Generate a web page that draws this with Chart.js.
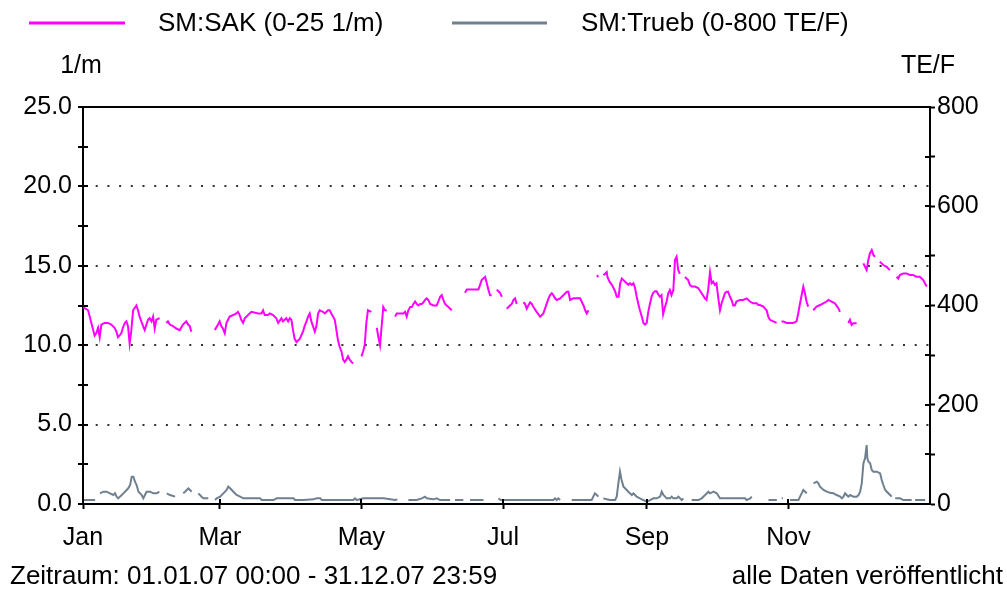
<!DOCTYPE html>
<html>
<head>
<meta charset="utf-8">
<script src="https://cdn.jsdelivr.net/npm/chart.js@4/dist/chart.umd.min.js"></script>
<style>
  body { margin: 0; background: #fff; }
  #wrap { width: 1007px; height: 590px; }
</style>
</head>
<body>
<div id="wrap"><canvas id="chart" width="1007" height="590"></canvas></div>
<script>
// x = day of year 2007, null = gap in the record
const sakData = [
  [0,12.4],[2.2,12.2],[3.6,11.4],[4.3,11.0],[5.0,10.6],[5.7,10.75],[6.5,11.1],[7.2,10.5],[7.9,11.3],[9.3,11.4],
  [10.8,11.4],[12.2,11.3],[13.6,11.1],[14.4,10.85],[15.1,10.5],[16.5,10.75],[17.2,11.1],[18.0,11.4],[18.7,11.5],
  [19.4,11.2],[20.1,10.1],[20.8,10.9],[21.6,12.2],[23.0,12.5],[23.7,12.2],[24.4,11.8],[25.9,11.2],[26.6,10.95],
  [28.0,11.6],[28.7,11.7],[29.5,11.5],[30.2,11.8],[30.9,11.05],[31.6,11.6],[33.0,11.7],
  null,
  [35.9,11.4],[36.6,11.5],[37.4,11.3],[38.8,11.2],[40.2,11.05],[41.7,10.95],[43.1,11.3],[44.5,11.5],[45.3,11.3],
  [46.0,11.2],[46.7,10.85],
  null,
  [56.8,10.95],[58.2,11.3],[58.9,11.5],[59.6,11.2],[60.3,11.05],[61.1,10.75],[61.8,11.4],[62.5,11.6],[63.2,11.8],
  [64.7,11.9],[66.1,12.0],[66.8,12.1],[67.5,11.9],[68.2,11.6],[69.0,11.4],[69.7,11.7],[71.1,11.9],[72.6,12.1],
  [75.4,12.0],[76.9,12.0],[77.6,12.2],[78.3,11.9],[79.7,11.9],[80.5,12.0],[81.9,11.9],[83.3,11.7],[84.1,11.4],
  [85.5,11.7],[86.2,11.5],[87.6,11.7],[88.4,11.5],[89.1,11.7],[89.8,11.6],[90.5,10.95],[91.2,10.4],[92.0,10.2],
  [93.4,10.4],[94.8,10.85],[95.5,11.2],[96.3,11.5],[97.0,11.8],[97.7,12.0],[98.4,11.5],[99.1,11.2],[99.9,10.85],
  [100.6,11.2],[101.3,12.0],[102.0,12.2],[103.4,12.1],[104.2,12.0],[105.6,12.2],[106.3,12.2],[107.0,12.0],
  [108.5,11.6],[109.2,10.95],[109.9,10.3],[110.6,9.9],[111.4,9.6],[112.1,9.1],[112.8,8.95],[113.5,9.1],
  [114.2,9.3],[114.9,9.1],[115.7,8.95],[116.4,8.85],
  null,
  [120.0,9.3],[120.7,9.6],[121.4,10.0],[122.1,11.4],[122.8,12.2],[124.3,12.1],
  null,
  [126.6,11.1],[127.3,10.5],[128.0,10.0],[128.7,11.2],[129.4,12.4],[130.1,12.2],[130.9,12.2],
  null,
  [134.5,11.8],[135.2,12.0],[136.6,12.0],[138.1,12.0],[138.8,12.1],[139.5,11.8],[140.2,12.2],[141.0,12.4],
  [141.7,12.4],[142.4,12.6],[143.1,12.75],[143.8,12.6],[144.5,12.5],[145.3,12.6],[146.0,12.6],[146.7,12.7],
  [147.4,12.85],[148.1,12.95],[148.8,12.85],[149.6,12.6],[151.0,12.5],[152.4,12.5],[153.1,12.75],[153.9,13.05],
  [154.6,13.15],[155.3,12.85],[156.0,12.6],[156.7,12.5],[157.5,12.4],[158.2,12.3],[158.9,12.2],
  null,
  [164.6,13.3],[165.4,13.5],[166.8,13.5],[168.2,13.5],[170.4,13.5],[171.1,13.8],[171.8,14.1],[172.5,14.2],
  [173.3,14.3],[174.0,13.9],[174.7,13.5],[175.4,13.15],[176.1,13.15],
  null,
  [178.3,13.5],[179.0,13.4],[179.7,13.3],[180.5,13.05],
  null,
  [182.6,12.3],[184.0,12.5],[184.8,12.6],[185.5,12.85],[186.2,12.95],[186.9,12.6],
  null,
  [189.8,12.7],[190.5,12.6],[191.2,12.3],[191.9,12.5],[192.7,12.7],[193.4,12.6],[194.1,12.4],[195.5,12.1],
  [197.0,11.8],[198.4,12.0],[199.8,12.6],[200.6,12.95],[201.3,13.15],[202.0,13.27],[202.7,13.15],[203.4,12.95],
  [204.2,12.85],[205.6,12.95],[207.0,13.15],[208.5,13.37],[209.2,13.37],[209.9,12.85],[211.3,12.95],[212.8,12.95],
  [214.2,12.95],[215.7,12.5],[216.4,12.2],[217.1,12.0],[217.8,12.2],
  null,
  [221.4,14.4],[222.1,14.3],
  null,
  [224.3,14.4],[225.0,14.5],[225.7,14.6],[226.0,14.3],[226.9,14.0],[227.9,13.8],[228.6,13.6],[229.3,13.4],
  [230.0,13.05],[230.8,13.05],[231.5,13.9],[232.2,14.2],[232.9,14.1],[233.6,14.0],[234.3,13.9],[235.0,13.8],
  [235.7,13.9],[236.5,13.8],[237.2,13.9],[237.9,13.6],[238.6,13.05],[239.3,12.6],[240.0,12.2],[240.8,11.8],
  [241.5,11.4],[242.2,11.3],[242.9,11.4],[243.6,12.1],[244.3,12.6],[245.0,13.05],[245.7,13.3],[246.5,13.4],
  [247.2,13.4],[247.9,13.2],[248.6,13.05],[249.3,13.15],[250.0,11.95],[250.8,12.4],[251.5,12.75],[252.2,13.27],
  [252.9,13.48],[253.6,13.15],[254.4,13.48],[255.1,15.36],[255.8,15.57],[256.5,14.73],[257.2,14.5],
  null,
  [259.4,14.3],[260.8,14.1],[261.5,13.8],[262.3,13.69],[263.7,13.69],[265.1,13.6],[266.6,13.27],[268.0,12.95],
  [268.7,12.85],[269.4,13.48],[270.2,14.6],[270.9,13.9],[271.6,14.0],[272.3,13.8],[273.0,13.9],[273.7,13.05],
  [274.5,12.2],[275.2,12.64],[275.9,12.95],[276.6,13.27],[277.3,13.37],[278.0,13.37],[278.8,13.05],[279.5,12.85],
  [280.2,12.5],[280.9,12.5],[281.6,12.75],[283.1,12.85],[284.5,12.85],[286.0,12.95],[287.4,12.75],[288.8,12.64],
  [290.3,12.64],[291.0,12.53],[291.7,12.53],[293.2,12.43],[293.9,12.3],[294.6,12.2],[295.3,11.8],[296.0,11.6],
  [297.5,11.5],[298.9,11.4],
  null,
  [301.0,11.5],[301.8,11.5],[303.2,11.4],[304.6,11.4],[306.1,11.4],[307.5,11.5],[308.2,12.0],[309.0,12.64],
  [309.7,13.16],[310.4,13.69],[311.1,13.27],[311.8,12.75],[312.5,12.43],
  null,
  [314.7,12.2],[316.1,12.43],[317.6,12.53],[319.0,12.64],[320.4,12.75],[321.2,12.85],[322.6,12.75],[324.0,12.64],
  [325.5,12.33],[326.2,12.1],
  null,
  [329.8,11.4],[330.5,11.6],[331.2,11.28],[331.9,11.38],[333.4,11.38],
  null,
  [336.3,15.15],[337.0,14.94],[337.7,14.73],[338.4,15.36],[339.1,15.78],[339.9,15.99],[340.6,15.68],[341.3,15.57],
  null,
  [343.4,15.25],[344.9,15.05],[346.3,14.94],[347.7,14.73],
  null,
  [350.6,14.31],[351.3,14.2],[352.0,14.42],[353.5,14.52],[354.9,14.52],[356.3,14.42],[357.8,14.42],[359.2,14.31],
  [360.6,14.31],[361.4,14.2],[362.1,14.1],[362.8,13.9],[363.6,13.69]
];

const truebData = [
  [0,8],[5.2,8],
  null,
  [7.3,21.5],[8.8,24.8],[10.2,24.8],[11.6,21.5],[13.1,18.1],[13.8,21.5],[14.5,14.8],[15.2,11.4],[15.9,14.8],
  [16.7,18.1],[17.4,21.5],[18.8,28.2],[19.5,31.6],[20.3,38.3],[21.0,55.1],[21.7,55.1],[22.4,45.0],[23.1,38.3],
  [23.9,24.8],[24.6,21.5],[25.3,18.1],[26.0,11.4],[26.7,18.1],[27.4,24.8],[28.9,24.8],[30.3,21.5],[31.8,21.5],
  [32.9,24.8],
  null,
  [36.1,21.5],[37.5,18.1],[39.7,14.8],
  null,
  [43.2,21.5],[44.0,24.8],[44.7,28.2],[45.4,31.6],[46.1,28.2],[46.8,24.8],
  null,
  [49.7,21.5],[50.4,18.1],[51.1,14.8],[51.9,11.4],[54.0,11.4],
  null,
  [56.9,8],[57.6,11.4],[59.1,14.8],[60.5,21.5],[61.9,28.2],[62.6,35.0],[63.4,31.6],[64.1,28.2],[64.8,24.8],
  [66.2,18.1],[67.7,14.8],[69.1,11.4],[76.3,11.4],[77.0,8],[82.0,8],[83.5,11.4],[90.7,11.4],[91.4,8],[95.0,8],
  [99.3,9.4],[100.7,11.4],[102.2,11.4],[102.9,8],[116.5,8],[117.2,11.4],[118.0,8],[120.8,11.4],[125.1,11.4],
  [129.5,11.4],[134.5,8],[135.5,9.4],
  null,
  [140.2,8],[143.8,8],[146.0,11.4],[147.4,14.8],[148.1,11.4],[151.0,9.4],[152.4,11.4],[153.9,8],[158.2,8],
  null,
  [160.3,8],[163.9,8],
  null,
  [166.8,8],[172.6,8],
  null,
  [179.0,11.4],[180.0,8],[202.7,8],[203.4,11.4],[204.1,8],[204.8,11.4],[205.6,8],
  null,
  [210.6,8],[219.2,8],[219.9,14.8],[220.6,21.5],[221.4,18.1],[222.1,14.8],
  null,
  [224.2,11.4],[225.7,9.4],[227.1,8],[229.3,8],[230.0,14.8],[230.7,41.7],[231.4,65.2],[232.1,48.4],[232.9,35],
  [233.6,31.6],[234.3,28.2],[235.0,24.8],[235.7,21.5],[236.5,18.1],[237.2,21.5],[237.9,18.1],[238.6,14.8],
  [240.0,11.4],[241.5,8],[242.9,4.7],[244.4,8],[245.8,11.4],[247.2,11.4],[248.7,14.8],[249.4,24.8],[250.1,18.1],
  [250.8,14.8],[251.5,11.4],[253.0,11.4],[253.7,14.8],[254.4,11.4],[255.8,11.4],[256.6,14.8],[257.3,11.4],
  [258.0,8],[258.7,11.4],
  null,
  [262.3,8],[265.2,8],[266.6,11.4],[268.1,18.1],[269.5,24.8],[270.2,21.5],[271.7,24.8],[273.1,21.5],[274.5,11.4],
  [280.3,11.4],[285.3,11.4],[286.0,8],[287.5,11.4],[288.2,14.8],
  null,
  [295.4,8],[299.0,8],
  null,
  [301.1,11.4],[301.6,11.4],
  null,
  [304.7,8],[308.3,8],[309.0,14.8],[309.7,21.5],[310.4,28.2],[311.2,24.8],[311.9,21.5],
  null,
  [314.8,41.7],[316.2,45],[316.9,41.7],[317.6,35],[319.1,28.2],[320.5,24.8],[321.9,22.5],[323.4,21.5],
  [324.8,18.1],[326.3,14.8],[327.0,11.4],[327.7,14.8],[328.4,21.5],[329.1,18.1],[329.8,14.8],[330.6,18.1],
  [332.0,14.8],[333.4,14.8],[334.2,18.1],[334.9,24.8],[335.6,41.7],[336.3,81.9],[337.0,92],[337.7,118.9],
  [338.0,92],[338.5,85],[339.2,81.9],[339.9,68.5],[340.6,65.2],[342.1,65.2],[343.5,61.8],[344.2,48.4],
  [344.9,38.3],[345.7,28.2],[346.4,24.8],[347.8,18.1],[348.5,14.8],
  null,
  [350.0,11.4],[352.1,11.4],[353.5,8],[357.1,8],
  null,
  [358.6,8],[362.9,8]
];

const monthStarts = [0, 59, 120, 181, 243, 304];
const monthLabels = ['Jan', 'Mar', 'May', 'Jul', 'Sep', 'Nov'];

const seriesNames = ['SM:SAK (0-25 1/m)', 'SM:Trueb (0-800 TE/F)'];
const unitLeft = '1/m';
const unitRight = 'TE/F';
const periodText = 'Zeitraum: 01.01.07 00:00 - 31.12.07 23:59';
const statusText = 'alle Daten veröffentlicht';

const SAK_COLOR = '#ff00ff';
const TRUEB_COLOR = '#6f8090';
const FONT = "Arial, 'Liberation Sans', sans-serif";

function toPoints(pairs) {
  return pairs.map((p, i) => p === null
    ? { x: pairs[i - 1][0] + 0.5, y: null }
    : { x: p[0], y: p[1] });
}

// legend, unit labels, footer, top frame and the inner half of the tick marks
const framePlugin = {
  id: 'frame',
  afterDraw(chart) {
    const { ctx, chartArea: a, scales } = chart;
    ctx.save();
    ctx.strokeStyle = '#000';
    ctx.lineWidth = 2;
    ctx.beginPath();
    ctx.moveTo(a.left - 1, a.top);
    ctx.lineTo(a.right + 1, a.top);
    scales.y.ticks.forEach(t => {
      const py = Math.round(scales.y.getPixelForValue(t.value));
      ctx.moveTo(a.left, py);
      ctx.lineTo(a.left + 5, py);
    });
    scales.y1.ticks.forEach(t => {
      const py = Math.round(scales.y1.getPixelForValue(t.value));
      ctx.moveTo(a.right - 5, py);
      ctx.lineTo(a.right, py);
    });
    scales.x.ticks.forEach(t => {
      const px = Math.round(scales.x.getPixelForValue(t.value));
      ctx.moveTo(px, a.bottom - 5);
      ctx.lineTo(px, a.bottom);
    });
    ctx.stroke();

    // legend
    const legendPos = [[29, 125, 158], [452, 547, 581]];
    ctx.font = '26px ' + FONT;
    ctx.textBaseline = 'middle';
    ctx.fillStyle = '#000';
    chart.data.datasets.forEach((ds, i) => {
      const [x1, x2, tx] = legendPos[i];
      ctx.strokeStyle = ds.borderColor;
      ctx.lineWidth = 3;
      ctx.beginPath();
      ctx.moveTo(x1, 23);
      ctx.lineTo(x2, 23);
      ctx.stroke();
      ctx.textAlign = 'left';
      ctx.fillText(ds.label, tx, 24);
    });

    ctx.font = '25px ' + FONT;
    ctx.textAlign = 'center';
    ctx.fillText(unitLeft, a.left - 2, 66);
    ctx.fillText(unitRight, a.right - 2, 66);

    ctx.font = '26px ' + FONT;
    ctx.textAlign = 'left';
    ctx.fillText(periodText, 10, 577);
    ctx.textAlign = 'right';
    ctx.fillText(statusText, 1003, 577);
    ctx.restore();
  }
};

const gridValues = [5, 10, 15, 20];

new Chart(document.getElementById('chart'), {
  type: 'line',
  data: {
    datasets: [
      {
        label: seriesNames[0],
        data: toPoints(sakData),
        borderColor: SAK_COLOR,
        borderWidth: 2,
        pointRadius: 0,
        tension: 0,
        spanGaps: false,
        yAxisID: 'y'
      },
      {
        label: seriesNames[1],
        data: toPoints(truebData),
        borderColor: TRUEB_COLOR,
        borderWidth: 2,
        pointRadius: 0,
        tension: 0,
        spanGaps: false,
        yAxisID: 'y1'
      }
    ]
  },
  options: {
    responsive: false,
    animation: false,
    events: [],
    layout: { padding: { top: 107, left: 0, right: 0, bottom: 0 } },
    plugins: {
      legend: { display: false },
      tooltip: { enabled: false }
    },
    scales: {
      x: {
        type: 'linear',
        min: 0,
        max: 365,
        afterBuildTicks: scale => { scale.ticks = monthStarts.map(v => ({ value: v })); },
        afterFit: scale => { scale.height = 86; },
        ticks: {
          autoSkip: false,
          maxRotation: 0,
          padding: 14,
          color: '#000',
          font: { family: FONT, size: 25 },
          callback: v => monthLabels[monthStarts.indexOf(v)]
        },
        grid: { drawOnChartArea: false, tickLength: 5, tickColor: '#000', tickWidth: 2 },
        border: { color: '#000', width: 2 }
      },
      y: {
        position: 'left',
        min: 0,
        max: 25,
        afterFit: scale => { scale.width = 83; },
        ticks: {
          stepSize: 2.5,
          autoSkip: false,
          padding: 6,
          color: '#000',
          font: { family: FONT, size: 25 },
          callback: v => (v % 5 === 0 ? v.toFixed(1) : '')
        },
        grid: {
          color: c => (c.tick && gridValues.includes(c.tick.value) ? '#333' : 'transparent'),
          lineWidth: 2,
          tickLength: 5,
          tickColor: '#000',
          tickWidth: 2
        },
        border: { color: '#000', width: 2, dash: [2, 9.7] }
      },
      y1: {
        position: 'right',
        min: 0,
        max: 800,
        afterFit: scale => { scale.width = 77; },
        ticks: {
          stepSize: 100,
          autoSkip: false,
          padding: 2,
          color: '#000',
          font: { family: FONT, size: 25 },
          callback: v => (v % 200 === 0 ? v : '')
        },
        grid: { drawOnChartArea: false, tickLength: 5, tickColor: '#000', tickWidth: 2 },
        border: { color: '#000', width: 2 }
      }
    }
  },
  plugins: [framePlugin]
});
</script>
</body>
</html>
